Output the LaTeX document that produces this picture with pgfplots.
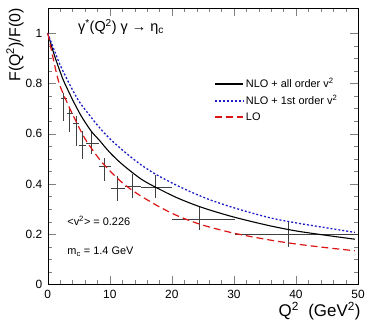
\documentclass[border=0pt]{standalone}
\usepackage{pgfplots}
\pgfplotsset{compat=1.18}
\usepackage{fontspec}
\setmainfont{Liberation Sans}
\definecolor{cblue}{RGB}{30,30,200}
\definecolor{cred}{RGB}{220,20,20}
\begin{document}
\begin{tikzpicture}[line width=0.8pt]
\begin{axis}[
  at={(0pt,0pt)}, anchor=south west,
  scale only axis, width=312pt, height=278pt,
  xmin=0, xmax=50, ymin=0, ymax=1.1,
  xtick={0,10,20,30,40,50}, ytick={0,0.2,0.4,0.6,0.8,1},
  yticklabels={0,0.2,0.4,0.6,0.8,1},
  minor x tick num=4, minor y tick num=3,
  tick align=inside, xtick pos=both, ytick pos=both,
  xticklabel pos=lower, yticklabel pos=left,
  major tick length=8pt, minor tick length=4pt,
  /pgf/number format/assume math mode=true,
  ticklabel style={font=\fontsize{12}{14}\selectfont},
  xticklabel style={yshift=-2pt},
  yticklabel style={xshift=-2pt},
  clip=false,
]
% data points with error bars
\addplot[draw=none, mark=none,
  error bars/.cd, x dir=both, x explicit, y dir=both, y explicit, error mark=none,
  error bar style={black!75, line width=0.8pt}]
coordinates {
 (2.5,0.74) += (0.6,0.02) -= (0.4,0.09)
 (3.55,0.68) += (0.55,0.025) -= (0.45,0.075)
 (4.55,0.64) += (0.55,0.03) -= (0.45,0.09)
 (5.6,0.553) += (0.5,0.058) -= (0.5,0.055)
 (7.0,0.56) += (1.25,0.045) -= (0.9,0.04)
 (9.1,0.47) += (1.1,0.035) -= (0.85,0.06)
 (11.2,0.384) += (1.2,0.046) -= (1.0,0.051)
 (13.6,0.39) += (1.5,0.05) -= (1.2,0.045)
 (17.4,0.386) += (2.6,0.048) -= (2.3,0.042)
 (24.5,0.26) += (5.7,0.05) -= (4.5,0.045)
 (38.7,0.2) += (11.3,0.05) -= (8.5,0.05)
};
% NLO + all order v^2
\addplot[black, mark=none, line width=1.1pt, smooth] coordinates {
 (0,1) (1,0.917) (2,0.846) (2.6,0.808) (4,0.735) (5.4,0.67) (7,0.61) (8.27,0.575)
 (10,0.525) (12,0.478) (15,0.42) (17.6,0.384) (21.1,0.342) (25,0.305) (30,0.268)
 (35.5,0.235) (40,0.213) (45,0.195) (49.5,0.18)
};
% NLO + 1st order v^2
\addplot[cblue, mark=none, line width=1.3pt, dash pattern=on 2pt off 2pt, smooth] coordinates {
 (0,1) (1,0.935) (2,0.873) (3.45,0.8) (5,0.73) (7,0.665) (8.27,0.626) (10,0.58)
 (12.5,0.525) (15.2,0.473) (18,0.43) (22,0.38) (26,0.338) (30,0.305) (35.5,0.267)
 (40,0.245) (45,0.225) (49.5,0.207)
};
% LO
\addplot[cred, mark=none, line width=1.2pt, dash pattern=on 7pt off 4pt, smooth] coordinates {
 (0,1) (1,0.885) (1.84,0.8) (3,0.73) (4.2,0.667) (6,0.58) (8.27,0.5) (10,0.452)
 (12,0.405) (13.6,0.375) (15,0.352) (17.9,0.31) (21.1,0.271) (25,0.236) (30,0.204)
 (35.5,0.178) (40,0.161) (45,0.146) (49.5,0.134)
};
% legend samples
\addplot[black, mark=none, line width=1.1pt] coordinates {(26.9,0.7973) (31.4,0.7973)};
\addplot[cblue, mark=none, line width=1.3pt, dash pattern=on 2pt off 2pt] coordinates {(26.9,0.730) (31.4,0.730)};
\addplot[cred, mark=none, line width=1.3pt, dash pattern=on 7pt off 4pt] coordinates {(26.9,0.6667) (31.4,0.6667)};
\node[anchor=west, inner sep=0pt, font=\fontsize{11}{13}\selectfont] at (axis cs:31.9,0.801)
  {NLO + all order v\textsuperscript{2}};
\node[anchor=west, inner sep=0pt, font=\fontsize{11}{13}\selectfont] at (axis cs:31.9,0.734)
  {NLO + 1st order v\textsuperscript{2}};
\node[anchor=west, inner sep=0pt, font=\fontsize{11}{13}\selectfont] at (axis cs:31.9,0.667)
  {LO};
\node[font=\fontsize{14.5}{16}\selectfont] at (axis cs:11.8,1.025)
  {γ\textsuperscript{*}(Q\textsuperscript{2}) γ → η\textsubscript{c}};
\node[anchor=west, font=\fontsize{11}{13}\selectfont] at (axis cs:2.6,0.254)
  {<v\textsuperscript{2}> = 0.226};
\node[anchor=west, font=\fontsize{11}{13}\selectfont] at (axis cs:2.6,0.13)
  {m\textsubscript{c} = 1.4 GeV};
\node[rotate=90, anchor=east, font=\fontsize{16}{18}\selectfont]
  at ([xshift=-33pt, yshift=3pt]rel axis cs:0,1) {F(Q\textsuperscript{2})/F(0)};
\node[anchor=east, font=\fontsize{17}{19}\selectfont]
  at ([xshift=6pt, yshift=-27pt]rel axis cs:1,0) {Q\textsuperscript{2}~~(GeV\textsuperscript{2})};
\end{axis}
\path[use as bounding box] (-48pt,-36pt) rectangle (320pt,286pt);
\end{tikzpicture}
\end{document}
